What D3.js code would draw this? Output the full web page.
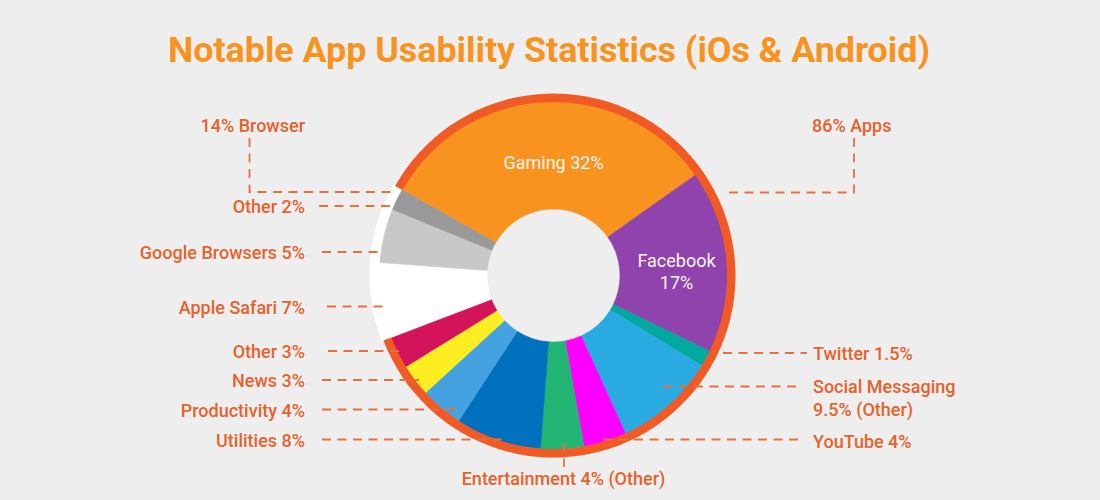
<!DOCTYPE html>
<html><head><meta charset="utf-8">
<script src="https://cdn.jsdelivr.net/npm/d3@7"></script>
<style>html,body{margin:0;padding:0;background:#efeeef;} svg{display:block;}</style>
</head><body>
<svg id="chart" width="1100" height="500"></svg>
<script>
// ---- data ----
const categories = ["Gaming","Facebook","Twitter","Social Messaging","YouTube","Entertainment","Utilities","Productivity","News","Other (Apps)","Apple Safari","Google Browsers","Other (Browser)"];
const values = [32, 17, 1.5, 9.5, 4, 4, 8, 4, 3, 3, 7, 5, 2];
const groups = ["Apps","Apps","Apps","Apps","Apps","Apps","Apps","Apps","Apps","Apps","Browser","Browser","Browser"];
const labelTexts = ["Gaming 32%","Facebook|17%","Twitter 1.5%","Social Messaging|9.5% (Other)","YouTube 4%","Entertainment 4% (Other)","Utilities 8%","Productivity 4%","News 3%","Other 3%","Apple Safari 7%","Google Browsers 5%","Other 2%"];
const groupNames = ["Apps","Browser"];
const groupLabels = ["86% Apps","14% Browser"];
const titleText = "Notable App Usability Statistics (iOs & Android)";

// ---- styles ----
const colors = ["#f7931e","#9043ad","#00a99d","#29abe2","#ff00ff","#22b573","#0071bc","#45a2e0","#fcee21","#d4145a","#ffffff","#c8c8c8","#999999"];
const bg = "#efeeef", ringColor = "#f15a24", labelColor = "#e5622d", lineColor = "#e8703c", titleColor = "#f7931e";

// ---- layout ----
const cx = 553.5, cy = 275.5;
const rInner = 66.5, rSlice = 174, rRingIn = 173.5, rRingOut = 182, rBrowserBand = 184;
const startDeg = -60.5;
const insideIdx = [0, 1];
const outside = {
  12: {x:305, y:213, anchor:"end", line:[[319,206],[392,206]]},
  11: {x:305, y:259, anchor:"end", line:[[322,252],[378,252]]},
  10: {x:305, y:314, anchor:"end", line:[[327,306.5],[383,306.5]]},
  9:  {x:305, y:358, anchor:"end", line:[[328,351],[400,351]]},
  8:  {x:305, y:387, anchor:"end", line:[[322,380],[419,380]]},
  7:  {x:305, y:417, anchor:"end", line:[[322,409.5],[455,409.5]]},
  6:  {x:305, y:447, anchor:"end", line:[[322,439.5],[502,439.5]]},
  2:  {x:813, y:360, anchor:"start", line:[[723,353],[807,353]]},
  3:  {x:813, y:393, anchor:"start", line:[[663,386.5],[800,386.5]]},
  4:  {x:813, y:448, anchor:"start", line:[[603,439.5],[800,439.5]]},
  5:  {x:563.5, y:485, anchor:"middle", line:[[564,443],[564,467]]}
};
const groupLayout = {
  Apps:    {x:812, y:132, anchor:"start", line:[[854,138],[854,192.5],[725,192.5]]},
  Browser: {x:305, y:132, anchor:"end",   line:[[249.5,138],[249.5,192],[393,192]]}
};

const svg = d3.select("#chart");
svg.append("rect").attr("width",1100).attr("height",500).attr("fill",bg);

svg.append("text")
  .attr("x", 549).attr("y", 62).attr("text-anchor","middle")
  .attr("font-family","Roboto, sans-serif").attr("font-weight",700).attr("font-size",35)
  .attr("fill",titleColor)
  .attr("textLength",762).attr("lengthAdjust","spacingAndGlyphs")
  .text(titleText);

const toRad = d => d * Math.PI / 180;
const pie = d3.pie().sort(null).value(d => d.v)
  .startAngle(toRad(startDeg)).endAngle(toRad(startDeg) + 2*Math.PI);
const data = categories.map((c,i) => ({c, v: values[i], g: groups[i], i}));
const arcs = pie(data);

const g = svg.append("g").attr("transform", `translate(${cx},${cy})`);

// group spans
const span = {};
groupNames.forEach(gn => {
  const a = arcs.filter(d => d.data.g === gn);
  span[gn] = {startAngle: a[0].startAngle, endAngle: a[a.length-1].endAngle};
});

// browser white band
g.append("path")
  .attr("d", d3.arc().innerRadius(rInner).outerRadius(rBrowserBand)(span.Browser))
  .attr("fill", "#ffffff");

// slices
const sliceArc = d3.arc().innerRadius(rInner).outerRadius(rSlice);
g.selectAll("path.slice").data(arcs).join("path")
  .attr("class","slice")
  .attr("d", sliceArc)
  .attr("fill", d => colors[d.data.i])
  .attr("stroke", d => colors[d.data.i]).attr("stroke-width", 0.6);

// apps ring
g.append("path")
  .attr("d", d3.arc().innerRadius(rRingIn).outerRadius(rRingOut)(span.Apps))
  .attr("fill", ringColor);

// inner labels
const labelArc = d3.arc().innerRadius(118).outerRadius(118);
insideIdx.forEach(i => {
  const a = arcs[i];
  let [x, y] = labelArc.centroid(a);
  if (i === 0) { x = 0; y = -113.5; }
  if (i === 1) { x = 123; y = -4; }
  const lines = labelTexts[i].split("|");
  const t = g.append("text").attr("text-anchor","middle")
    .attr("font-family","Roboto, sans-serif").attr("font-weight",400).attr("font-size",18)
    .attr("fill","#fdf6ee");
  lines.forEach((ln, k) => {
    t.append("tspan").attr("x", x)
      .attr("y", y + 6.5 + (k - (lines.length-1)/2) * 22)
      .text(ln);
  });
});

// outside labels & leader lines
const ann = svg.append("g");
const lineGen = d3.line();
Object.keys(outside).forEach(k => {
  const i = +k, o = outside[k];
  ann.append("path").attr("d", lineGen(o.line))
    .attr("fill","none").attr("stroke",lineColor).attr("stroke-width",1.8)
    .attr("stroke-dasharray","9,6.5");
  const lines = labelTexts[i].split("|");
  const t = ann.append("text").attr("text-anchor", o.anchor)
    .attr("font-family","Roboto, sans-serif").attr("font-weight",500).attr("font-size",18)
    .attr("fill",labelColor);
  lines.forEach((ln, j) => t.append("tspan").attr("x", o.x).attr("y", o.y + j*23).text(ln));
});
groupNames.forEach((gn, j) => {
  const o = groupLayout[gn];
  ann.append("path").attr("d", lineGen(o.line))
    .attr("fill","none").attr("stroke",lineColor).attr("stroke-width",1.8)
    .attr("stroke-dasharray","9,6.5");
  ann.append("text").attr("x", o.x).attr("y", o.y).attr("text-anchor", o.anchor)
    .attr("font-family","Roboto, sans-serif").attr("font-weight",500).attr("font-size",18)
    .attr("fill",labelColor).text(groupLabels[j]);
});
</script>
</body></html>
